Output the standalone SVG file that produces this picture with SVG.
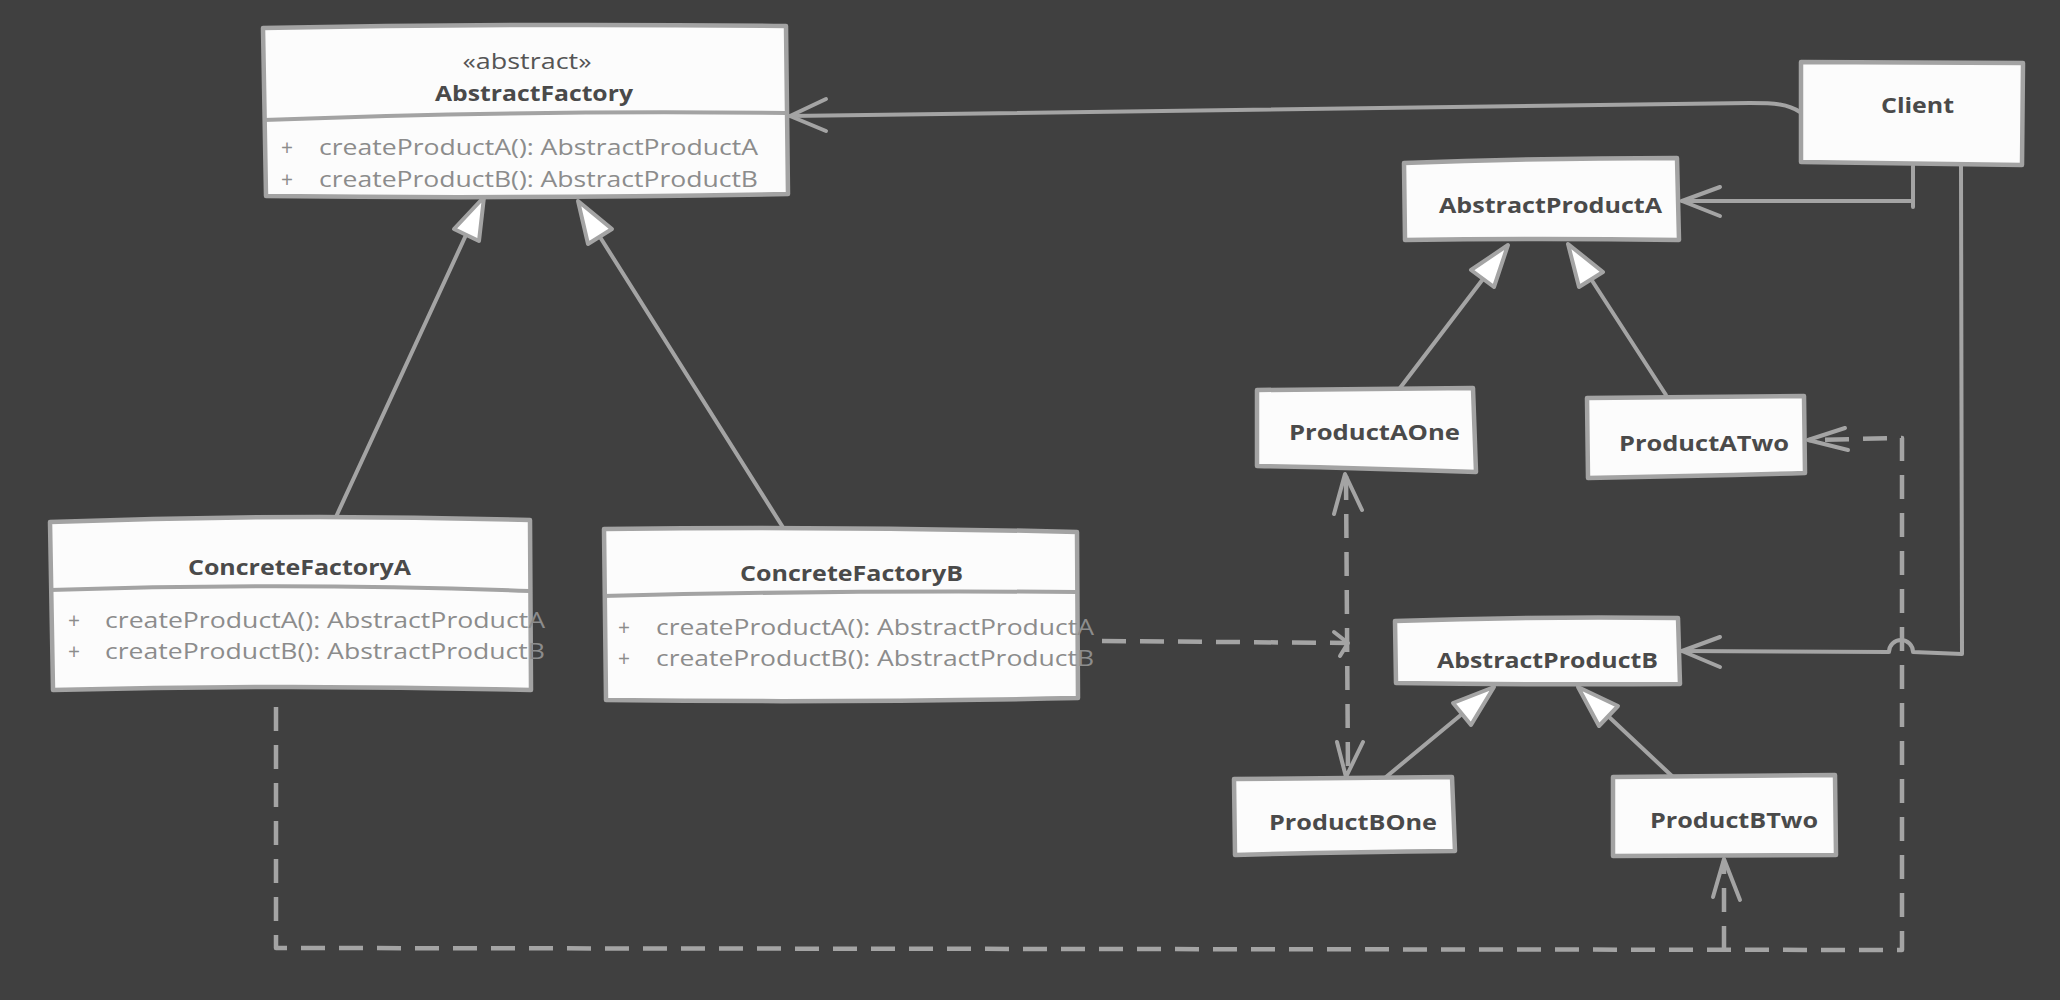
<svg xmlns="http://www.w3.org/2000/svg" width="2060" height="1000" viewBox="0 0 2060 1000">
<defs>
<style>
.box{fill:#fcfcfc;stroke:#a3a3a3;stroke-width:4.5;stroke-linejoin:round}
.div{fill:none;stroke:#a3a3a3;stroke-width:4}
.ln{fill:none;stroke:#a4a4a4;stroke-width:4;stroke-linecap:round;stroke-linejoin:round}
.dash{fill:none;stroke:#a4a4a4;stroke-width:4.5;stroke-dasharray:24 14;stroke-linejoin:round}
.tri{fill:#ffffff;stroke:#a4a4a4;stroke-width:4;stroke-linejoin:round}
.name{font-family:"Open Sans","Noto Sans","Liberation Sans",sans-serif;font-weight:700;font-size:22px;fill:#4a4a4a}
.ster{font-family:"Open Sans","Noto Sans","Liberation Sans",sans-serif;font-size:21px;fill:#555555}
.meth{font-family:"Open Sans","Noto Sans","Liberation Sans",sans-serif;font-size:21px;fill:#8c8c8c}
</style>
</defs>
<rect width="2060" height="1000" fill="#404040"/>

<g id="connectors">
<!-- Client -> AbstractFactory -->
<path class="ln" d="M1800,112 C1788,104 1775,103 1750,103 L790,116"/>
<path class="ln" d="M826,99 L790,116 L826,131"/>
<!-- Client -> AbstractProductA -->
<path class="ln" d="M1913,166 L1913,207 M1913,201 L1682,201"/>
<path class="ln" d="M1720,187 L1682,201 L1720,216"/>
<!-- Client -> AbstractProductB -->
<path class="ln" d="M1961,166 L1962,654 L1913,652 A12,12 0 0 0 1889,652 L1682,651"/>
<path class="ln" d="M1720,637 L1682,651 L1720,667"/>
<!-- generalizations -->
<path class="ln" d="M335,519 L466,235"/>
<path class="tri" d="M484,197 L479,241 L454,229 Z"/>
<path class="ln" d="M784,529 L600,237"/>
<path class="tri" d="M578,201 L612,229 L588,244 Z"/>
<path class="ln" d="M1400,388 L1483,279"/>
<path class="tri" d="M1508,245 L1494,287 L1471,270 Z"/>
<path class="ln" d="M1666,395 L1591,279"/>
<path class="tri" d="M1568,244 L1603,272 L1579,287 Z"/>
<path class="ln" d="M1386,777 L1462,714"/>
<path class="tri" d="M1494,687 L1471,725 L1453,703 Z"/>
<path class="ln" d="M1673,777 L1608,716"/>
<path class="tri" d="M1578,687 L1618,706 L1599,726 Z"/>
<!-- ConcreteFactoryB -> ProductAOne / ProductBOne -->
<path class="dash" d="M1102,641 L1348,643"/>
<path class="ln" d="M1334,632 L1348,643 L1340,656"/>
<path class="dash" d="M1346,476 L1348,775"/>
<path class="ln" d="M1334,514 L1345,474 L1362,510"/>
<path class="ln" d="M1337,742 L1346,777 L1363,742"/>
<!-- ConcreteFactoryA -> ProductATwo / ProductBTwo -->
<path class="dash" d="M276,707 L276,948 L1902,950 L1902,438 L1809,440"/>
<path class="ln" d="M1845,428 L1808,440 L1848,450"/>
<path class="dash" d="M1724,950 L1724,861"/>
<path class="ln" d="M1713,897 L1724,859 L1740,900"/>
</g>

<g id="AbstractFactory">
<path class="box" d="M263,28 Q520,23 786,26 L788,194 Q520,199 266,196 Z"/>
<path class="div" d="M264,120 Q520,110 787,113"/>
<text class="ster" x="527" y="69" text-anchor="middle" textLength="129" lengthAdjust="spacingAndGlyphs">«abstract»</text>
<text class="name" x="534" y="101" text-anchor="middle" textLength="198" lengthAdjust="spacingAndGlyphs">AbstractFactory</text>
<text class="meth" x="281" y="155">+</text>
<text class="meth" x="319" y="155" textLength="439" lengthAdjust="spacingAndGlyphs">createProductA(): AbstractProductA</text>
<text class="meth" x="281" y="187">+</text>
<text class="meth" x="319" y="187" textLength="439" lengthAdjust="spacingAndGlyphs">createProductB(): AbstractProductB</text>
</g>

<g id="Client">
<path class="box" d="M1801,62 L2023,63 L2022,165 L1801,162 Z"/>
<text class="name" x="1881" y="113" textLength="73" lengthAdjust="spacingAndGlyphs">Client</text>
</g>

<g id="AbstractProductA">
<path class="box" d="M1404,163 Q1540,158 1677,158 L1679,240 Q1540,238 1405,240 Z"/>
<text class="name" x="1439" y="213" textLength="223" lengthAdjust="spacingAndGlyphs">AbstractProductA</text>
</g>

<g id="ProductAOne">
<path class="box" d="M1257,390 L1473,388 L1476,472 Q1360,468 1257,466 Z"/>
<text class="name" x="1289" y="440" textLength="171" lengthAdjust="spacingAndGlyphs">ProductAOne</text>
</g>

<g id="ProductATwo">
<path class="box" d="M1587,398 L1804,396 L1805,473 Q1700,476 1588,478 Z"/>
<text class="name" x="1619" y="451" textLength="170" lengthAdjust="spacingAndGlyphs">ProductATwo</text>
</g>

<g id="AbstractProductB">
<path class="box" d="M1395,621 Q1540,616 1678,618 L1680,684 Q1540,685 1396,683 Z"/>
<text class="name" x="1437" y="668" textLength="221" lengthAdjust="spacingAndGlyphs">AbstractProductB</text>
</g>

<g id="ProductBOne">
<path class="box" d="M1234,779 L1452,777 L1455,851 Q1340,852 1235,855 Z"/>
<text class="name" x="1269" y="830" textLength="168" lengthAdjust="spacingAndGlyphs">ProductBOne</text>
</g>

<g id="ProductBTwo">
<path class="box" d="M1613,777 L1835,775 L1836,855 L1613,856 Z"/>
<text class="name" x="1650" y="828" textLength="168" lengthAdjust="spacingAndGlyphs">ProductBTwo</text>
</g>

<g id="ConcreteFactoryA">
<path class="box" d="M50,522 Q290,513 530,520 L531,690 Q290,684 53,690 Z"/>
<path class="div" d="M50,590 Q290,582 530,591"/>
<text class="name" x="188" y="575" textLength="223" lengthAdjust="spacingAndGlyphs">ConcreteFactoryA</text>
<text class="meth" x="68" y="628">+</text>
<text class="meth" x="105" y="628" textLength="440" lengthAdjust="spacingAndGlyphs">createProductA(): AbstractProductA</text>
<text class="meth" x="68" y="659">+</text>
<text class="meth" x="105" y="659" textLength="440" lengthAdjust="spacingAndGlyphs">createProductB(): AbstractProductB</text>
</g>

<g id="ConcreteFactoryB">
<path class="box" d="M604,529 Q840,526 1077,532 L1078,698 Q840,703 606,700 Z"/>
<path class="div" d="M603,596 Q840,590 1077,592"/>
<text class="name" x="740" y="581" textLength="223" lengthAdjust="spacingAndGlyphs">ConcreteFactoryB</text>
<text class="meth" x="618" y="635">+</text>
<text class="meth" x="656" y="635" textLength="438" lengthAdjust="spacingAndGlyphs">createProductA(): AbstractProductA</text>
<text class="meth" x="618" y="666">+</text>
<text class="meth" x="656" y="666" textLength="438" lengthAdjust="spacingAndGlyphs">createProductB(): AbstractProductB</text>
</g>
</svg>
